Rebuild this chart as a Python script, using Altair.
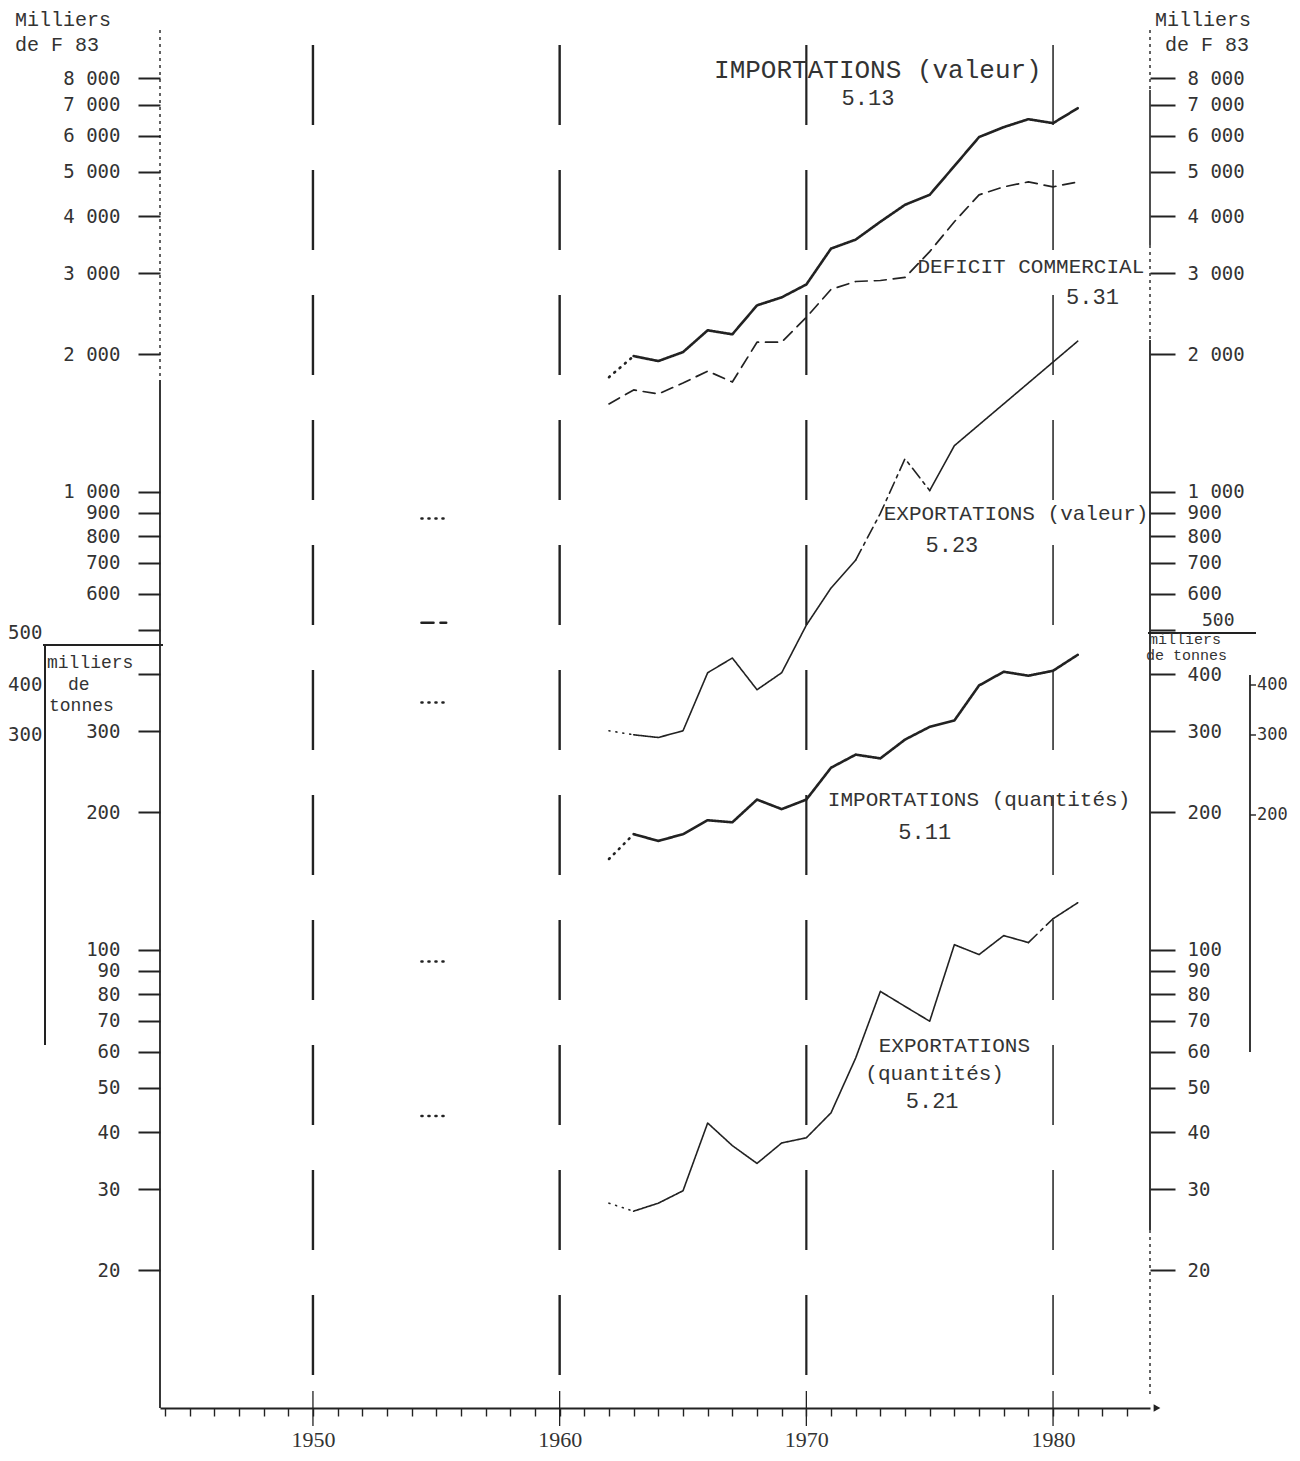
import altair as alt
import pandas as pd

# ---------------- data ----------------
YEARS = list(range(1962, 1982))
IMPORT_VALEUR = [1781, 1980, 1931, 2020, 2254, 2209, 2555, 2660, 2838, 3399,
                 3556, 3890, 4236, 4454, 5148, 5954, 6259, 6514, 6386, 6883]
DEFICIT = [1557, 1670, 1637, 1729, 1836, 1738, 2123, 2123, 2406, 2768,
           2881, 2895, 2940, 3348, 3890, 4454, 4636, 4753, 4636, 4753]
EXPORT_VALEUR_YEARS = list(range(1962, 1977)) + [1981]
EXPORT_VALEUR = [301, 295, 291, 301, 403, 434, 370, 403, 512, 617,
                 710, 898, 1182, 1007, 1262, 2134]
IMPORT_QTE = [158, 179, 173, 179, 192, 190, 213, 203, 213, 250,
              267, 262, 288, 307, 317, 378, 405, 397, 407, 441]
EXPORT_QTE = [28.0, 26.9, 28.0, 29.8, 41.9, 37.4, 34.2, 37.9, 38.9, 44.1,
              58.1, 81.2, 75.3, 69.9, 102.7, 97.7, 107.5, 103.8, 117.0, 126.8]

# isolated readings around 1955
YEAR_1955 = 1955
VALUES_1955 = [875, 518, 347, 94.4, 43.4]
STYLES_1955 = ["dotted", "dashed", "dotted", "dotted", "dotted"]

TICKS = [8000, 7000, 6000, 5000, 4000, 3000, 2000, 1000, 900, 800, 700, 600,
         500, 400, 300, 200, 100, 90, 80, 70, 60, 50, 40, 30, 20]
DECADES = [1950, 1960, 1970, 1980]
YEAR_TICKS = list(range(1944, 1984))

LABELS = ["IMPORTATIONS (valeur)", "5.13", "DEFICIT COMMERCIAL", "5.31",
          "EXPORTATIONS (valeur)", "5.23", "IMPORTATIONS (quantités)", "5.11",
          "EXPORTATIONS", "(quantités)", "5.21"]
# label anchors (year, value) and font sizes
LABEL_X = [1972.9, 1972.5, 1979.1, 1981.6, 1978.5, 1975.9, 1977.0, 1974.8, 1976.0, 1975.2, 1975.1]
LABEL_Y = [8327, 7237, 3105, 2660, 893, 765, 213, 181, 61.7, 53.6, 46.8]
LABEL_SIZE = [26, 22, 21, 22, 21, 22, 21, 22, 21, 21, 22]

# ---------------- style ----------------
INK = "#222222"
MONO = "Liberation Mono"
SANSMONO = "DejaVu Sans Mono"
W, H = 990, 1378

XS = alt.Scale(domain=[1943.8, 1983.93], nice=False, zero=False)
YS = alt.Scale(type="log", domain=[10, 10200], nice=False)

XAXIS = alt.Axis(values=YEAR_TICKS, tickSize=8, tickWidth=1.4, tickColor=INK,
                 domainColor=INK, domainWidth=2.2, grid=False, title=None,
                 labelExpr="datum.value % 10 == 0 ? '' + datum.value : ''",
                 labelFont="Liberation Serif", labelFontSize=22, labelColor="#333",
                 labelPadding=13, labelOverlap=False, labelFlush=False)

FMT = "(datum.value >= 1000 ? replace(format(datum.value, ',d'), ',', ' ') : format(datum.value, 'd'))"


def yaxis(orient, hide_expr, tick, pad):
    return alt.Axis(orient=orient, values=TICKS, tickSize=tick, tickWidth=2,
                    tickColor=INK, domain=False, grid=False, title=None,
                    labelExpr=f"{hide_expr} ? '' : {FMT}",
                    labelFont=SANSMONO, labelFontSize=19, labelColor="#333",
                    labelPadding=pad, labelOverlap=False, labelFlush=False)


DASHES = alt.Scale(domain=["solid", "dotted", "dashed", "dashdot"],
                   range=[[1, 0], [1, 6], [12, 7], [12, 5, 3, 5]])


def segs(name, years, vals, pieces, width):
    rows = []
    for i, (a, b, style) in enumerate(pieces):
        for yr, v in zip(years, vals):
            if a <= yr <= b:
                rows.append(dict(serie=name, seg=f"{name}-{i}", year=yr,
                                 value=v, style=style, w=width))
    return rows


rows = []
rows += segs("imp_val", YEARS, IMPORT_VALEUR,
             [(1962, 1963, "dotted"), (1963, 1981, "solid")], 2.6)
rows += segs("deficit", YEARS, DEFICIT, [(1962, 1981, "dashed")], 1.7)
rows += segs("exp_val", EXPORT_VALEUR_YEARS, EXPORT_VALEUR,
             [(1962, 1963, "dotted"), (1963, 1972, "solid"),
              (1972, 1975, "dashdot"), (1975, 1981, "solid")], 1.6)
rows += segs("imp_qte", YEARS, IMPORT_QTE,
             [(1962, 1963, "dotted"), (1963, 1981, "solid")], 2.6)
rows += segs("exp_qte", YEARS, EXPORT_QTE,
             [(1962, 1963, "dotted"), (1963, 1979, "solid"),
              (1979, 1980, "dashdot"), (1980, 1981, "solid")], 1.6)
lines_df = pd.DataFrame(rows)

DUMMY = pd.DataFrame({"a": [0]})

# ---------------- layers ----------------
layers = []

# vertical decade dashed lines
vdf = pd.DataFrame({"year": DECADES, "w": [2.4, 2.4, 2.2, 1.5]})
layers.append(
    alt.Chart(vdf).mark_rule(color=INK, strokeDash=[80, 45]).encode(
        x=alt.X("year:Q", scale=XS, axis=XAXIS),
        y=alt.value(15), y2=alt.value(H - 14),
        strokeWidth=alt.StrokeWidth("w:Q", scale=None, legend=None))
)
# decade crossing ticks on x axis
layers.append(
    alt.Chart(vdf).mark_rule(color=INK, strokeWidth=1.3).encode(
        x=alt.X("year:Q", scale=XS, axis=XAXIS),
        y=alt.value(H - 17), y2=alt.value(H + 18))
)

# series
layers.append(
    alt.Chart(lines_df).mark_line(color=INK, strokeCap="round", strokeJoin="round").encode(
        x=alt.X("year:Q", scale=XS, axis=XAXIS),
        y=alt.Y("value:Q", scale=YS, axis=None),
        detail="seg:N",
        strokeDash=alt.StrokeDash("style:N", scale=DASHES, legend=None),
        strokeWidth=alt.StrokeWidth("w:Q", scale=None, legend=None))
)

# 1955 isolated readings
d55 = pd.DataFrame({"x0": [YEAR_1955 - 0.6] * 5, "x1": [YEAR_1955 + 0.4] * 5,
                    "value": VALUES_1955, "style": STYLES_1955})
layers.append(
    alt.Chart(d55).mark_rule(color=INK, strokeWidth=2.6, strokeCap="round").encode(
        x=alt.X("x0:Q", scale=XS, axis=XAXIS), x2="x1:Q",
        y=alt.Y("value:Q", scale=YS, axis=None),
        strokeDash=alt.StrokeDash("style:N", scale=alt.Scale(
            domain=["dotted", "dashed"], range=[[0.5, 10], [12, 6]]), legend=None))
)

# annotations
ann = pd.DataFrame({"text": LABELS, "x": LABEL_X, "y": LABEL_Y, "fs": LABEL_SIZE})
layers.append(
    alt.Chart(ann).mark_text(font=MONO, color="#333", align="center", baseline="middle").encode(
        x=alt.X("x:Q", scale=XS, axis=XAXIS),
        y=alt.Y("y:Q", scale=YS, axis=None),
        text="text:N",
        size=alt.Size("fs:Q", scale=None, legend=None))
)

# axes (left and right), invisible carriers
tick_df = pd.DataFrame({"v": TICKS})
layers.append(
    alt.Chart(tick_df).mark_point(opacity=0).encode(
        y=alt.Y("v:Q", scale=YS,
                axis=yaxis("left", "(datum.value == 500 || datum.value == 400)", 22, 18)))
)
layers.append(
    alt.Chart(tick_df).mark_point(opacity=0).encode(
        y=alt.Y("v:Q", scale=YS, axis=yaxis("right", "(datum.value == 500)", 25, 12)))
)


def ptext(txt, x, y, size=20, font=MONO, align="left"):
    return alt.Chart(DUMMY).mark_text(text=txt, align=align, baseline="middle",
                                      font=font, fontSize=size, color="#333").encode(
        x=alt.value(x), y=alt.value(y))


def prule(x, y, x2=None, y2=None, dash=None, w=1.6):
    enc = dict(x=alt.value(x), y=alt.value(y))
    if x2 is not None:
        enc["x2"] = alt.value(x2)
    if y2 is not None:
        enc["y2"] = alt.value(y2)
    mk = dict(color=INK, strokeWidth=w)
    if dash:
        mk["strokeDash"] = dash
    return alt.Chart(DUMMY).mark_rule(**mk).encode(**enc)


# axis lines
layers += [
    prule(0, 0, y2=350, dash=[3, 4], w=1.4),
    prule(0, 350, y2=H, w=1.8),
    prule(W, 0, y2=60, dash=[3, 4], w=1.4),
    prule(W, 60, y2=215, w=1.6),
    prule(W, 215, y2=310, dash=[3, 4], w=1.4),
    prule(W, 310, y2=1200, w=1.8),
    prule(W, 1200, y2=H - 10, dash=[3, 4], w=1.4),
]
# unit captions
layers += [
    ptext("Milliers", -145, -10), ptext("de F 83", -145, 15),
    ptext("Milliers", 995, -10), ptext("de F 83", 1005, 15),
]
# left quantity bracket
layers += [
    ptext("500", -152, 603, font=SANSMONO, size=19),
    ptext("400", -152, 655, font=SANSMONO, size=19),
    ptext("300", -152, 705, font=SANSMONO, size=19),
    prule(-117, 615, x2=3, w=2),
    prule(-115, 615, y2=1015, w=2),
    ptext("milliers", -113, 633, size=18), ptext("de", -92, 655, size=18),
    ptext("tonnes", -111, 676, size=18),
]
# right quantity bracket
layers += [
    ptext("500", 1042, 591, font=SANSMONO, size=18),
    prule(988, 603, x2=1096, w=2),
    ptext("milliers", 989, 609, size=15), ptext("de tonnes", 986, 625, size=15),
    prule(1090, 645, y2=1022, w=1.8),
    prule(1090, 655, x2=1096, w=1.4), ptext("400", 1097, 655, font=SANSMONO, size=17),
    prule(1090, 705, x2=1096, w=1.4), ptext("300", 1097, 705, font=SANSMONO, size=17),
    prule(1090, 785, x2=1096, w=1.4), ptext("200", 1097, 785, font=SANSMONO, size=17),
]
# arrow at end of x axis
layers.append(
    alt.Chart(DUMMY).mark_point(shape="triangle-right", filled=True, size=60,
                                color=INK, opacity=1).encode(
        x=alt.value(997), y=alt.value(H))
)

chart = alt.layer(*layers).resolve_scale(y="independent").properties(
    width=W, height=H,
    padding={"left": 152, "top": 22, "right": 142, "bottom": 45},
    autosize=alt.AutoSizeParams(type="none"),
    background="white",
).configure_view(stroke=None)

chart.save("out.html", embed_options={"renderer": "svg", "actions": False})
